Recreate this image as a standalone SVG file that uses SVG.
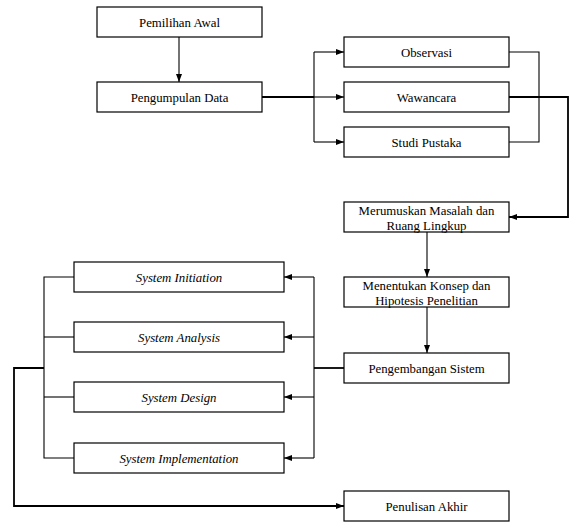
<svg xmlns="http://www.w3.org/2000/svg" width="570" height="523" viewBox="0 0 570 523">
<style>
.box{fill:#fff;stroke:#000;stroke-width:1.2}
.t{font-family:'Liberation Serif','Times New Roman','DejaVu Serif',serif;font-size:12.8px;fill:#000;text-anchor:middle}
.i{font-style:italic}
.c{fill:none;stroke:#000;stroke-width:1.1}
.k{fill:none;stroke:#000;stroke-width:1.8}
.a{marker-end:url(#ah)}
</style>
<defs>
<marker id="ah" viewBox="0 0 8 8" refX="8" refY="4" markerWidth="8" markerHeight="8" markerUnits="userSpaceOnUse" orient="auto">
<path d="M0,1 L8,4 L0,7 Z" fill="#000"/>
</marker>
</defs>
<rect width="570" height="523" fill="#fff"/>
<g id="connectors">
<path class="c a" d="M179,37 V82"/>
<path class="k" d="M262,97 H314"/>
<path class="c" d="M314,52 V142"/>
<path class="c a" d="M314,52 H344"/>
<path class="c a" d="M314,97 H344"/>
<path class="c a" d="M314,142 H344"/>
<path class="c" d="M509,52 H539 V142 H509"/>
<path class="k a" d="M509,97 H568 V217 H509"/>
<path class="c a" d="M427,232 V277"/>
<path class="c a" d="M427,307 V353"/>
<path class="k" d="M344,368 H314"/>
<path class="c" d="M314,277 V458"/>
<path class="c a" d="M314,277 H284"/>
<path class="c a" d="M314,337 H284"/>
<path class="c a" d="M314,397 H284"/>
<path class="c a" d="M314,458 H284"/>
<path class="c" d="M74,277 H44 V458 H74"/>
<path class="c" d="M44,337 H74"/>
<path class="c" d="M44,397 H74"/>
<path class="k a" d="M44,368 H14 V506 H344"/>
</g>
<g id="pemilihan-awal"><rect class="box" x="97" y="7" width="165" height="30"/><text class="t" x="179.5" y="26.5" font-family="Liberation Serif, serif">Pemilihan Awal</text></g>
<g id="pengumpulan-data"><rect class="box" x="97" y="82" width="165" height="30"/><text class="t" x="179.5" y="101.5">Pengumpulan Data</text></g>
<g id="observasi"><rect class="box" x="344" y="37" width="165" height="30"/><text class="t" x="426.5" y="56.5">Observasi</text></g>
<g id="wawancara"><rect class="box" x="344" y="82" width="165" height="30"/><text class="t" x="426.5" y="101.5">Wawancara</text></g>
<g id="studi-pustaka"><rect class="box" x="344" y="127" width="165" height="30"/><text class="t" x="426.5" y="146.5">Studi Pustaka</text></g>
<g id="merumuskan"><rect class="box" x="344" y="202" width="165" height="30"/><text class="t" x="426.5" y="215">Merumuskan Masalah dan</text><text class="t" x="426.5" y="229.5">Ruang Lingkup</text></g>
<g id="menentukan"><rect class="box" x="344" y="277" width="165" height="30"/><text class="t" x="426.5" y="290">Menentukan Konsep dan</text><text class="t" x="426.5" y="304.5">Hipotesis Penelitian</text></g>
<g id="pengembangan"><rect class="box" x="344" y="353" width="165" height="30"/><text class="t" x="426.5" y="372.5">Pengembangan Sistem</text></g>
<g id="system-initiation"><rect class="box" x="74" y="262" width="210" height="30"/><text class="t i" x="179" y="281.5">System Initiation</text></g>
<g id="system-analysis"><rect class="box" x="74" y="322" width="210" height="30"/><text class="t i" x="179" y="341.5">System Analysis</text></g>
<g id="system-design"><rect class="box" x="74" y="382" width="210" height="30"/><text class="t i" x="179" y="401.5">System Design</text></g>
<g id="system-implementation"><rect class="box" x="74" y="443" width="210" height="30"/><text class="t i" x="179" y="462.5">System Implementation</text></g>
<g id="penulisan-akhir"><rect class="box" x="344" y="491" width="165" height="30"/><text class="t" x="426.5" y="510.5">Penulisan Akhir</text></g>
</svg>
